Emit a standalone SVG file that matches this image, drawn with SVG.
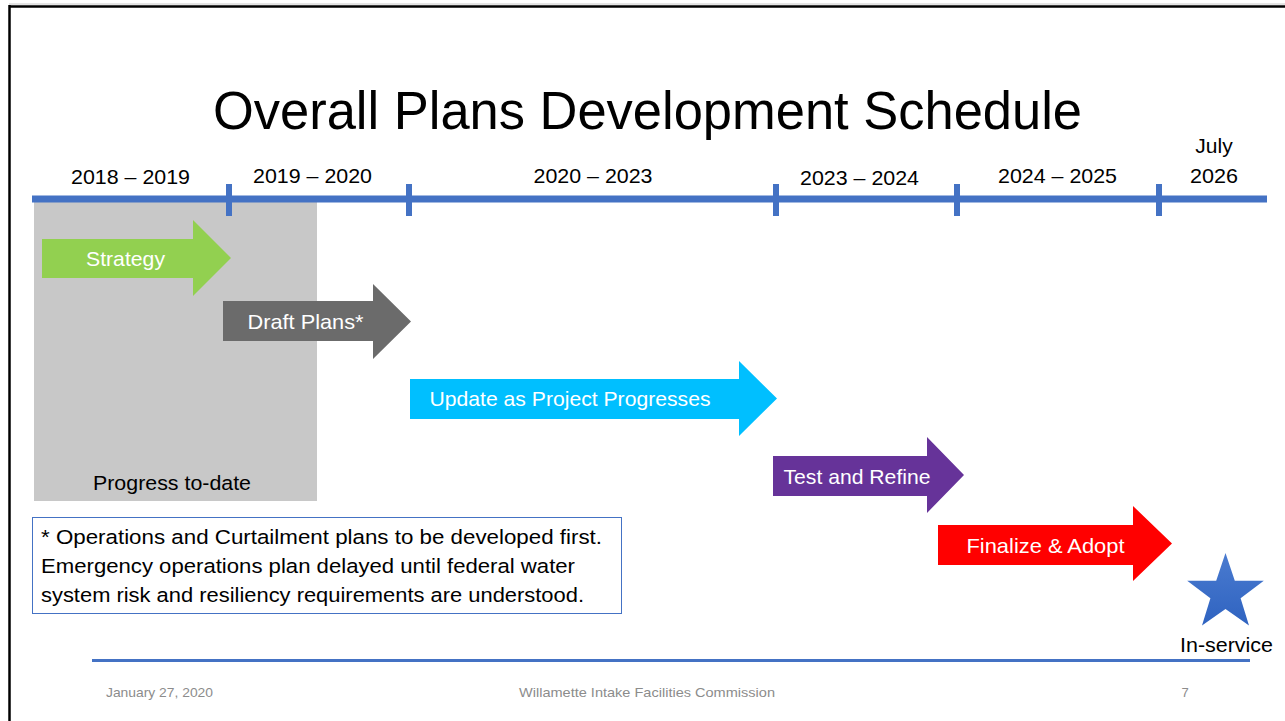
<svg xmlns="http://www.w3.org/2000/svg" width="1285" height="721" viewBox="0 0 1285 721">
<style>
text{font-family:"Liberation Sans",Arial,sans-serif}
.yr{font-size:21px;fill:#000;text-anchor:middle}
.lbl{font-size:21px;fill:#fff}
.note{font-size:20.5px;fill:#000}
.foot{font-size:13px;fill:#8c8c8c}
.axis{fill:#4472c4}
</style>
<defs>
<linearGradient id="starGrad" x1="0" y1="0" x2="0" y2="1">
<stop offset="0" stop-color="#4a7bd0"/>
<stop offset="1" stop-color="#2f63c0"/>
</linearGradient>
</defs>
<rect width="1285" height="721" fill="#fff"/>
<g id="frame">
<line x1="9" y1="4" x2="1285" y2="4" stroke="#c8c8c8" stroke-width="1"/>
<line x1="9" y1="6.5" x2="1285" y2="6.5" stroke="#000" stroke-width="2.5"/>
<line x1="9.5" y1="5" x2="9.5" y2="721" stroke="#000" stroke-width="2.5"/>
</g>
<g id="title">
<text x="647.5" y="129" font-size="53" text-anchor="middle" textLength="869" lengthAdjust="spacingAndGlyphs">Overall Plans Development Schedule</text>
</g>
<g id="progress">
<rect x="34" y="202" width="283" height="299" fill="#c8c8c8"/>
<text x="172" y="490" font-size="20.5" text-anchor="middle" textLength="158" lengthAdjust="spacingAndGlyphs">Progress to-date</text>
</g>
<g id="timeline">
<rect class="axis" x="32" y="195.5" width="1235" height="7"/>
<rect class="axis" x="226" y="184" width="6" height="32"/>
<rect class="axis" x="406" y="184" width="6" height="32"/>
<rect class="axis" x="773" y="184" width="6" height="32"/>
<rect class="axis" x="954" y="184" width="6" height="32"/>
<rect class="axis" x="1156" y="184" width="6" height="32"/>
<text class="yr" x="130.5" y="184" textLength="119" lengthAdjust="spacingAndGlyphs">2018 – 2019</text>
<text class="yr" x="312.5" y="183" textLength="119" lengthAdjust="spacingAndGlyphs">2019 – 2020</text>
<text class="yr" x="593" y="183" textLength="119" lengthAdjust="spacingAndGlyphs">2020 – 2023</text>
<text class="yr" x="859.5" y="185" textLength="119" lengthAdjust="spacingAndGlyphs">2023 – 2024</text>
<text class="yr" x="1057.5" y="183" textLength="119" lengthAdjust="spacingAndGlyphs">2024 – 2025</text>
<text class="yr" x="1214" y="153">July</text>
<text class="yr" x="1214" y="183" textLength="48" lengthAdjust="spacingAndGlyphs">2026</text>
</g>
<g id="strategy">
<polygon points="42,239 193,239 193,220 231,258 193,296 193,278 42,278" fill="#92d050"/>
<text class="lbl" x="125.5" y="266" text-anchor="middle" textLength="79" lengthAdjust="spacingAndGlyphs">Strategy</text>
</g>
<g id="draft-plans">
<polygon points="223,301 373,301 373,284 411,321.5 373,359 373,341 223,341" fill="#6b6b6b"/>
<text class="lbl" x="305.5" y="329" text-anchor="middle" textLength="116" lengthAdjust="spacingAndGlyphs">Draft Plans*</text>
</g>
<g id="update">
<polygon points="410,379 739,379 739,361 777,398.5 739,436 739,419 410,419" fill="#00bfff"/>
<text class="lbl" x="570" y="406" text-anchor="middle" textLength="281" lengthAdjust="spacingAndGlyphs">Update as Project Progresses</text>
</g>
<g id="test-refine">
<polygon points="773,456 927,456 927,437 964,475 927,513 927,496 773,496" fill="#663399"/>
<text class="lbl" x="857" y="484" text-anchor="middle" textLength="147" lengthAdjust="spacingAndGlyphs">Test and Refine</text>
</g>
<g id="finalize">
<polygon points="938,525 1133,525 1133,506 1172,543.5 1133,581 1133,565 938,565" fill="#ff0000"/>
<text class="lbl" x="1045.5" y="553" text-anchor="middle" textLength="158" lengthAdjust="spacingAndGlyphs">Finalize &amp; Adopt</text>
</g>
<g id="in-service">
<polygon points="1225.5,553 1234.8,580.8 1263.8,580.8 1240.6,598.2 1249.0,625.5 1225.5,609 1202.0,625.5 1210.4,598.2 1187.2,580.8 1216.2,580.8" fill="url(#starGrad)"/>
<text x="1226.5" y="652" font-size="20.5" text-anchor="middle" textLength="93" lengthAdjust="spacingAndGlyphs">In-service</text>
</g>
<g id="note">
<rect x="32.5" y="517.5" width="589" height="96" fill="#fff" stroke="#4472c4" stroke-width="1"/>
<text class="note" x="41" y="544" textLength="561" lengthAdjust="spacingAndGlyphs">* Operations and Curtailment plans to be developed first.</text>
<text class="note" x="41" y="573" textLength="534" lengthAdjust="spacingAndGlyphs">Emergency operations plan delayed until federal water</text>
<text class="note" x="41" y="602" textLength="543" lengthAdjust="spacingAndGlyphs">system risk and resiliency requirements are understood.</text>
</g>
<g id="footer">
<rect x="92" y="659" width="1158" height="3" fill="#4472c4"/>
<text class="foot" x="106" y="697" textLength="107" lengthAdjust="spacingAndGlyphs">January 27, 2020</text>
<text class="foot" x="647" y="697" text-anchor="middle" textLength="256" lengthAdjust="spacingAndGlyphs">Willamette Intake Facilities Commission</text>
<text class="foot" x="1185" y="697" text-anchor="middle">7</text>
</g>
</svg>
